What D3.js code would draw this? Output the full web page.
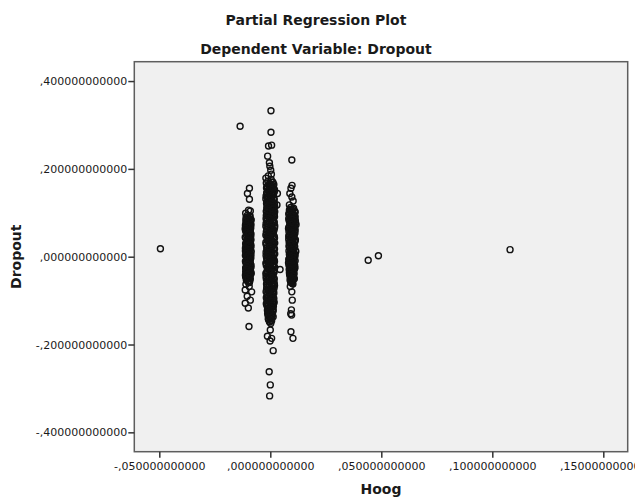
<!DOCTYPE html>
<html>
<head>
<meta charset="utf-8">
<script src="https://cdn.jsdelivr.net/npm/d3@7"></script>
<style>
  html, body { margin: 0; padding: 0; background: #fff; }
  svg { display: block; }
  text { font-family: "DejaVu Sans", sans-serif; fill: #1a1a1a; }
</style>
</head>
<body>
<svg id="chart" width="635" height="500"></svg>
<script>
// ---- data ----
const title = "Partial Regression Plot";
const subtitle = "Dependent Variable: Dropout";
const xLabel = "Hoog";
const yLabel = "Dropout";
const xTicks = [-0.05, 0, 0.05, 0.10, 0.15];
const yTicks = [-0.4, -0.2, 0, 0.2, 0.4];
const xDomain = [-0.06126, 0.16099];
const yDomain = [-0.4441, 0.4441];

// isolated observations
const outliers = [
  [-0.0495, 0.018], [0.0441, -0.008], [0.0487, 0.002], [0.1080, 0.016], [-0.0136, 0.297]
];

// observations around Hoog ≈ -0.01
const leftColumn = [
  [-0.0094,0.156],[-0.0103,0.144],[-0.0094,0.131],[-0.0098,0.106],[-0.0111,0.099],[-0.0090,0.104],
  [-0.0104,0.094],[-0.0093,0.091],[-0.0099,0.088],[-0.0108,0.085],[-0.0091,0.082],[-0.0101,0.079],
  [-0.0110,0.076],[-0.0095,0.073],[-0.0089,0.070],[-0.0105,0.067],[-0.0098,0.064],[-0.0112,0.061],
  [-0.0092,0.058],[-0.0102,0.055],[-0.0087,0.052],[-0.0107,0.049],[-0.0096,0.046],[-0.0111,0.043],
  [-0.0090,0.040],[-0.0100,0.037],[-0.0106,0.034],[-0.0093,0.031],[-0.0088,0.028],[-0.0109,0.025],
  [-0.0097,0.022],[-0.0103,0.019],[-0.0090,0.016],[-0.0112,0.013],[-0.0095,0.010],[-0.0101,0.007],
  [-0.0087,0.004],[-0.0108,0.001],[-0.0094,-0.002],[-0.0104,-0.005],[-0.0091,-0.008],[-0.0110,-0.011],
  [-0.0098,-0.014],[-0.0089,-0.017],[-0.0106,-0.020],[-0.0096,-0.023],[-0.0111,-0.026],[-0.0092,-0.029],
  [-0.0102,-0.032],[-0.0088,-0.035],[-0.0107,-0.038],[-0.0097,-0.041],[-0.0112,-0.042],[-0.0093,-0.044],
  [-0.0103,-0.047],[-0.0090,-0.050],[-0.0108,-0.053],[-0.0099,-0.056],[-0.0094,-0.059],
  [-0.0086,-0.038],[-0.0110,-0.063],[-0.0095,-0.068],[-0.0113,-0.076],[-0.0084,-0.080],[-0.0104,-0.090],
  [-0.0090,-0.099],[-0.0113,-0.106],[-0.0099,-0.117],[-0.0096,-0.159],
  [-0.0091,0.0926],[-0.0109,0.0894],[-0.0097,0.0867],[-0.0086,0.0836],[-0.0106,0.0803],[-0.0100,0.0777],
  [-0.0092,0.0744],[-0.0112,0.0716],[-0.0102,0.0687],[-0.0088,0.0654],[-0.0107,0.0623],[-0.0095,0.0597],
  [-0.0110,0.0566],[-0.0090,0.0534],[-0.0101,0.0506],[-0.0093,0.0476],[-0.0113,0.0443],[-0.0098,0.0417],
  [-0.0087,0.0384],[-0.0105,0.0356],[-0.0096,0.0326],[-0.0111,0.0294],[-0.0089,0.0267],[-0.0103,0.0233],
  [-0.0094,0.0207],[-0.0108,0.0176],[-0.0099,0.0144],[-0.0086,0.0117],[-0.0104,0.0086],[-0.0092,0.0054],
  [-0.0112,0.0027],[-0.0097,-0.0004],[-0.0088,-0.0036],[-0.0106,-0.0063],[-0.0100,-0.0094],[-0.0091,-0.0127],
  [-0.0109,-0.0153],[-0.0095,-0.0184],[-0.0103,-0.0216],[-0.0087,-0.0243],[-0.0110,-0.0274],[-0.0098,-0.0306],
  [-0.0093,-0.0333],[-0.0105,-0.0366],[-0.0089,-0.0394],[-0.0101,-0.0424],[-0.0111,-0.0456],[-0.0096,-0.0483],
  [-0.0105,-0.0514],[-0.0092,-0.0546],[-0.0100,-0.0574],
  [-0.0100,0.0884],[-0.0089,0.0856],[-0.0110,0.0824],[-0.0096,0.0794],[-0.0104,0.0766],[-0.0087,0.0735],
  [-0.0107,0.0704],[-0.0093,0.0676],[-0.0113,0.0645],[-0.0099,0.0614],[-0.0090,0.0586],[-0.0106,0.0555],
  [-0.0095,0.0524],[-0.0102,0.0496],[-0.0088,0.0465],[-0.0111,0.0434],[-0.0097,0.0406],[-0.0103,0.0375],
  [-0.0091,0.0344],[-0.0108,0.0316],[-0.0094,0.0285],[-0.0100,0.0254],[-0.0087,0.0226],[-0.0112,0.0195],
  [-0.0098,0.0164],[-0.0105,0.0136],[-0.0092,0.0105],[-0.0109,0.0074],[-0.0095,0.0046],[-0.0101,0.0015],
  [-0.0089,-0.0016],[-0.0107,-0.0044],[-0.0096,-0.0075],[-0.0112,-0.0106],[-0.0093,-0.0134],[-0.0102,-0.0165],
  [-0.0087,-0.0196],[-0.0108,-0.0224],[-0.0099,-0.0255],[-0.0105,-0.0286],[-0.0090,-0.0314],[-0.0111,-0.0345],
  [-0.0097,-0.0376],[-0.0103,-0.0404],[-0.0092,-0.0435],[-0.0109,-0.0466],[-0.0098,-0.0494]
];

// observations around Hoog ≈ 0
const centerColumn = [
  [0.0003,0.3325],[0.0003,0.2835],[0.0006,0.254],[-0.0008,0.252],[-0.0012,0.229],[-0.0004,0.214],
  [-0.0002,0.206],[0.0002,0.197],[-0.0020,0.179],[0.0005,0.188],[-0.0009,0.184],
  [0.0004,0.176],[-0.0011,0.172],[0.0012,0.169],[-0.0003,0.166],[0.0008,0.163],[-0.0014,0.160],
  [0.0002,0.157],[0.0015,0.154],[-0.0008,0.151],[0.0006,0.148],[-0.0016,0.145],[0.0032,0.144],
  [0.0010,0.142],[-0.0002,0.139],[-0.0013,0.136],[0.0017,0.133],[0.0003,0.130],[-0.0009,0.127],
  [0.0013,0.124],[-0.0017,0.121],[0.0030,0.118],[0.0005,0.118],[-0.0005,0.115],[0.0016,0.112],
  [-0.0012,0.109],[0.0008,0.106],[-0.0018,0.103],[0.0001,0.100],[0.0014,0.097],[-0.0007,0.094],
  [0.0019,0.091],[-0.0015,0.088],[0.0004,0.085],[-0.0003,0.082],[0.0012,0.079],[-0.0019,0.076],
  [0.0007,0.073],[0.0020,0.070],[-0.0010,0.067],[0.0002,0.064],[-0.0016,0.061],[0.0015,0.058],
  [-0.0004,0.055],[0.0009,0.052],[-0.0020,0.049],[0.0018,0.046],[-0.0008,0.043],[0.0003,0.040],
  [-0.0013,0.037],[0.0011,0.034],[0.0020,0.031],[-0.0017,0.028],[0.0006,0.025],[-0.0002,0.022],
  [0.0014,0.019],[-0.0011,0.016],[0.0001,0.013],[-0.0019,0.010],[0.0017,0.007],[0.0008,0.004],
  [-0.0006,0.001],[0.0012,-0.002],[-0.0015,-0.005],[0.0004,-0.008],[0.0019,-0.011],[-0.0009,-0.014],
  [0.0002,-0.017],[-0.0018,-0.020],[0.0013,-0.023],[-0.0004,-0.026],[0.0044,-0.029],[0.0007,-0.029],
  [-0.0012,-0.032],[0.0016,-0.035],[-0.0020,-0.038],[0.0003,-0.041],[0.0010,-0.044],[-0.0007,-0.047],
  [0.0018,-0.050],[-0.0014,-0.053],[0.0000,-0.056],[0.0014,-0.059],[-0.0017,-0.062],[0.0006,-0.065],
  [-0.0005,-0.068],[0.0017,-0.071],[-0.0011,-0.074],[0.0002,-0.077],[-0.0019,-0.080],[0.0012,-0.083],
  [-0.0003,-0.086],[0.0008,-0.089],[-0.0015,-0.092],[0.0016,-0.095],[0.0001,-0.098],[-0.0010,-0.101],
  [0.0011,-0.104],[-0.0018,-0.107],[0.0005,-0.110],[0.0014,-0.113],[-0.0007,-0.116],[0.0003,-0.119],
  [-0.0013,-0.122],[0.0012,-0.125],[-0.0004,-0.128],[0.0007,-0.131],[-0.0010,-0.134],[0.0013,-0.137],
  [0.0001,-0.140],[-0.0008,-0.143],[0.0006,-0.146],[-0.0003,-0.149],[0.0002,-0.152],
  [0.0000,-0.167],[-0.0013,-0.181],[0.0006,-0.186],[-0.0001,-0.192],[0.0013,-0.214],
  [-0.0005,-0.262],[0.0000,-0.292],[-0.0003,-0.317],
  [0.0010,0.1703],[-0.0018,0.1676],[0.0016,0.1644],[-0.0006,0.1618],[0.0003,0.1583],[-0.0013,0.1557],
  [0.0019,0.1524],[-0.0001,0.1497],[0.0008,0.1463],[-0.0016,0.1438],[0.0013,0.1404],[-0.0009,0.1377],
  [0.0005,0.1343],[-0.0020,0.1316],[0.0017,0.1287],[-0.0004,0.1253],[0.0011,0.1226],[-0.0014,0.1198],
  [0.0000,0.1163],[0.0020,0.1137],[-0.0011,0.1104],[0.0007,0.1078],[-0.0017,0.1044],[0.0014,0.1017],
  [-0.0003,0.0984],[0.0018,0.0957],[-0.0008,0.0926],[0.0002,0.0893],[-0.0019,0.0866],[0.0012,0.0837],
  [-0.0005,0.0804],[0.0016,0.0777],[-0.0012,0.0746],[0.0004,0.0713],[-0.0015,0.0687],[0.0019,0.0654],
  [-0.0002,0.0626],[0.0009,0.0597],[-0.0018,0.0563],[0.0013,0.0536],[-0.0007,0.0506],[0.0001,0.0473],
  [-0.0014,0.0447],[0.0017,0.0414],[-0.0010,0.0386],[0.0006,0.0357],[-0.0020,0.0323],[0.0015,0.0296],
  [-0.0003,0.0267],[0.0010,0.0234],[-0.0016,0.0206],[0.0019,0.0177],[-0.0006,0.0143],[0.0003,0.0116],
  [-0.0012,0.0084],[0.0014,0.0053],[-0.0019,0.0027],[0.0008,-0.0006],[-0.0002,-0.0033],[0.0017,-0.0067],
  [-0.0013,-0.0094],[0.0005,-0.0126],[-0.0017,-0.0153],[0.0012,-0.0187],[-0.0005,-0.0214],[0.0020,-0.0246],
  [-0.0009,-0.0273],[0.0002,-0.0307],[-0.0015,-0.0334],[0.0016,-0.0366],[-0.0001,-0.0393],[0.0009,-0.0427],
  [-0.0019,-0.0454],[0.0013,-0.0486],[-0.0007,-0.0513],[0.0004,-0.0547],[-0.0012,-0.0574],[0.0018,-0.0606],
  [-0.0004,-0.0633],[0.0011,-0.0667],[-0.0016,-0.0694],[0.0006,-0.0726],[-0.0009,-0.0753],[0.0015,-0.0787],
  [-0.0002,-0.0814],[0.0010,-0.0846],[-0.0014,-0.0873],[0.0003,-0.0907],[-0.0018,-0.0934],[0.0012,-0.0966],
  [-0.0006,-0.0993],[0.0016,-0.1027],[-0.0011,-0.1054],[0.0001,-0.1086],[-0.0015,-0.1113],[0.0009,-0.1147],
  [-0.0003,-0.1174],[0.0013,-0.1206],[-0.0008,-0.1233],[0.0005,-0.1267],[-0.0012,-0.1294],[0.0010,-0.1326],
  [-0.0002,-0.1353],[0.0006,-0.1387],[-0.0009,-0.1414],[0.0004,-0.1446],[-0.0004,-0.1473],
  [-0.0004,0.1633],[0.0014,0.1594],[-0.0017,0.1566],[0.0007,0.1534],[-0.0010,0.1505],[0.0018,0.1474],
  [-0.0002,0.1447],[0.0011,0.1414],[-0.0019,0.1385],[0.0005,0.1356],[-0.0008,0.1323],[0.0016,0.1294],
  [-0.0014,0.1266],[0.0001,0.1235],[0.0019,0.1204],[-0.0006,0.1176],[0.0009,0.1145],[-0.0016,0.1114],
  [0.0013,0.1087],[-0.0003,0.1053],[0.0020,0.1026],[-0.0012,0.0995],[0.0006,0.0964],[-0.0018,0.0937],
  [0.0015,0.0905],[-0.0005,0.0875],[0.0002,0.0846],[-0.0014,0.0815],[0.0018,0.0786],[-0.0009,0.0754],
  [0.0010,0.0726],[-0.0020,0.0695],[0.0004,0.0665],[-0.0001,0.0634],[0.0016,0.0606],[-0.0011,0.0575],
  [0.0007,0.0544],[-0.0017,0.0516],[0.0013,0.0485],[-0.0004,0.0454],[0.0019,0.0426],[-0.0013,0.0394],
  [0.0001,0.0366],[-0.0007,0.0335],[0.0012,0.0304],[-0.0019,0.0276],[0.0008,0.0245],[-0.0002,0.0214],
  [0.0017,0.0186],[-0.0015,0.0155],[0.0005,0.0124],[-0.0009,0.0096],[0.0020,0.0065],[-0.0012,0.0034],
  [0.0003,0.0006],[-0.0017,-0.0025],[0.0014,-0.0056],[-0.0005,-0.0084],[0.0010,-0.0115],[-0.0020,-0.0146],
  [0.0016,-0.0174],[-0.0008,-0.0205],[0.0001,-0.0236],[-0.0013,-0.0264],[0.0018,-0.0295],[-0.0003,-0.0326],
  [0.0007,-0.0354],[-0.0016,-0.0385],[0.0012,-0.0416],[-0.0010,-0.0444],[0.0004,-0.0475],[-0.0018,-0.0506],
  [0.0015,-0.0534],[-0.0001,-0.0565],[0.0009,-0.0596],[-0.0014,-0.0624],[0.0019,-0.0655],[-0.0006,-0.0686],
  [0.0003,-0.0714],[-0.0017,-0.0745],[0.0011,-0.0776],[-0.0004,-0.0804],[0.0016,-0.0835],[-0.0012,-0.0866],
  [0.0006,-0.0894],[-0.0008,-0.0925],[0.0013,-0.0956],[-0.0015,-0.0984],[0.0002,-0.1015],[0.0017,-0.1046],
  [-0.0009,-0.1074],[0.0008,-0.1105],[-0.0013,-0.1136],[0.0004,-0.1164],[-0.0006,-0.1195],[0.0011,-0.1226],
  [-0.0003,-0.1254]
];

// observations around Hoog ≈ 0.01
const rightColumn = [
  [0.0097,0.2202],[0.0098,0.1625],[0.0093,0.156],[0.0088,0.144],[0.0097,0.136],[0.0086,0.118],[0.0103,0.127],
  [0.0092,0.112],[0.0101,0.109],[0.0086,0.106],[0.0108,0.103],[0.0095,0.100],[0.0083,0.097],
  [0.0104,0.094],[0.0112,0.091],[0.0090,0.088],[0.0099,0.085],[0.0085,0.082],[0.0107,0.079],
  [0.0094,0.076],[0.0116,0.073],[0.0088,0.070],[0.0102,0.067],[0.0082,0.064],[0.0097,0.061],
  [0.0110,0.058],[0.0091,0.055],[0.0100,0.052],[0.0086,0.049],[0.0106,0.046],[0.0095,0.043],
  [0.0083,0.040],[0.0103,0.037],[0.0111,0.034],[0.0089,0.031],[0.0098,0.028],[0.0085,0.025],
  [0.0108,0.022],[0.0093,0.019],[0.0101,0.016],[0.0084,0.013],[0.0105,0.010],[0.0096,0.007],
  [0.0112,0.004],[0.0088,0.001],[0.0100,-0.002],[0.0086,-0.005],[0.0107,-0.008],[0.0094,-0.011],
  [0.0082,-0.014],[0.0103,-0.017],[0.0110,-0.020],[0.0090,-0.023],[0.0099,-0.026],[0.0085,-0.029],
  [0.0106,-0.032],[0.0092,-0.035],[0.0101,-0.038],[0.0087,-0.041],[0.0104,-0.044],[0.0095,-0.047],
  [0.0108,-0.050],[0.0089,-0.053],[0.0098,-0.056],[0.0093,-0.059],[0.0102,-0.062],
  [0.0090,-0.068],[0.0097,-0.080],[0.0099,-0.099],[0.0095,-0.121],[0.0092,-0.130],[0.0096,-0.133],
  [0.0093,-0.171],[0.0102,-0.186],
  [0.0105,0.1104],[0.0089,0.1077],[0.0098,0.1046],[0.0112,0.1013],[0.0087,0.0987],[0.0101,0.0956],
  [0.0093,0.0923],[0.0109,0.0897],[0.0083,0.0864],[0.0104,0.0836],[0.0096,0.0807],[0.0114,0.0774],
  [0.0090,0.0746],[0.0100,0.0716],[0.0086,0.0683],[0.0108,0.0657],[0.0094,0.0624],[0.0103,0.0596],
  [0.0084,0.0566],[0.0111,0.0533],[0.0097,0.0507],[0.0089,0.0474],[0.0106,0.0446],[0.0092,0.0414],
  [0.0113,0.0386],[0.0099,0.0357],[0.0085,0.0323],[0.0102,0.0296],[0.0095,0.0267],[0.0110,0.0234],
  [0.0088,0.0206],[0.0104,0.0174],[0.0091,0.0146],[0.0115,0.0117],[0.0098,0.0084],[0.0086,0.0056],
  [0.0107,0.0024],[0.0093,-0.0004],[0.0101,-0.0036],[0.0083,-0.0064],[0.0112,-0.0094],[0.0096,-0.0126],
  [0.0090,-0.0153],[0.0105,-0.0184],[0.0099,-0.0216],[0.0087,-0.0243],[0.0109,-0.0276],[0.0094,-0.0304],
  [0.0102,-0.0333],[0.0086,-0.0366],[0.0107,-0.0393],[0.0097,-0.0424],[0.0091,-0.0456],[0.0104,-0.0484],
  [0.0095,-0.0513],[0.0100,-0.0546],[0.0092,-0.0574],[0.0098,-0.0604],
  [0.0095,0.1064],[0.0110,0.1036],[0.0086,0.1004],[0.0102,0.0976],[0.0093,0.0945],[0.0107,0.0914],
  [0.0089,0.0886],[0.0099,0.0854],[0.0113,0.0826],[0.0087,0.0795],[0.0104,0.0764],[0.0092,0.0736],
  [0.0109,0.0705],[0.0084,0.0674],[0.0098,0.0646],[0.0112,0.0614],[0.0090,0.0585],[0.0101,0.0556],
  [0.0095,0.0524],[0.0106,0.0496],[0.0083,0.0465],[0.0103,0.0434],[0.0097,0.0406],[0.0111,0.0375],
  [0.0088,0.0346],[0.0100,0.0316],[0.0093,0.0285],[0.0108,0.0254],[0.0085,0.0226],[0.0102,0.0195],
  [0.0096,0.0164],[0.0113,0.0136],[0.0090,0.0105],[0.0099,0.0076],[0.0105,0.0044],[0.0087,0.0016],
  [0.0110,-0.0015],[0.0094,-0.0046],[0.0101,-0.0074],[0.0089,-0.0105],[0.0106,-0.0136],[0.0097,-0.0164],
  [0.0084,-0.0195],[0.0103,-0.0226],[0.0111,-0.0254],[0.0092,-0.0285],[0.0100,-0.0316],[0.0088,-0.0344],
  [0.0105,-0.0375],[0.0094,-0.0406],[0.0102,-0.0434],[0.0090,-0.0465],[0.0107,-0.0496],[0.0096,-0.0524]
];

// ---- drawing ----
const svg = d3.select("#chart");
const plot = { left: 134.3, right: 627.7, top: 61.7, bottom: 451.7 };

const x = d3.scaleLinear().domain(xDomain).range([plot.left, plot.right]);
const y = d3.scaleLinear().domain(yDomain).range([plot.bottom, plot.top]);

const fmt = v => {
  const s = d3.format(".12f")(Math.abs(v)).replace(/^0\./, ",");
  return (v < 0 ? "-" : "") + s;
};

// plot background
svg.append("rect")
  .attr("x", plot.left).attr("y", plot.top)
  .attr("width", plot.right - plot.left).attr("height", plot.bottom - plot.top)
  .attr("fill", "#f0f0f0");

// points
const allPoints = [].concat(leftColumn, centerColumn, rightColumn, outliers);
svg.append("g")
  .selectAll("circle")
  .data(allPoints)
  .join("circle")
  .attr("cx", d => x(d[0]))
  .attr("cy", d => y(d[1]))
  .attr("r", 3.0)
  .attr("fill", "none")
  .attr("stroke", "#111")
  .attr("stroke-width", 1.4);

// frame
svg.append("rect")
  .attr("x", plot.left).attr("y", plot.top)
  .attr("width", plot.right - plot.left).attr("height", plot.bottom - plot.top)
  .attr("fill", "none")
  .attr("stroke", "#5e5e5e")
  .attr("stroke-width", 1.5);

// axes
const yAxis = svg.append("g")
  .attr("transform", `translate(${plot.left},0)`)
  .call(d3.axisLeft(y).tickValues(yTicks).tickSize(6).tickPadding(1).tickFormat(fmt));
const xAxis = svg.append("g")
  .attr("transform", `translate(0,${plot.bottom})`)
  .call(d3.axisBottom(x).tickValues(xTicks).tickSize(6).tickPadding(4.5).tickFormat(fmt));

[yAxis, xAxis].forEach(g => {
  g.select(".domain").remove();
  g.selectAll(".tick line").attr("stroke", "#333").attr("stroke-width", 1.5);
  g.selectAll(".tick text")
    .attr("font-family", "DejaVu Sans, sans-serif")
    .attr("font-size", 11)
    .attr("fill", "#1a1a1a");
});

// titles
svg.append("text")
  .attr("x", 316).attr("y", 25)
  .attr("text-anchor", "middle")
  .attr("font-size", 14).attr("font-weight", "bold")
  .text(title);
svg.append("text")
  .attr("x", 316).attr("y", 54)
  .attr("text-anchor", "middle")
  .attr("font-size", 14).attr("font-weight", "bold")
  .text(subtitle);
svg.append("text")
  .attr("x", (plot.left + plot.right) / 2).attr("y", 494)
  .attr("text-anchor", "middle")
  .attr("font-size", 14).attr("font-weight", "bold")
  .text(xLabel);
svg.append("text")
  .attr("transform", `translate(20.5,${(plot.top + plot.bottom) / 2}) rotate(-90)`)
  .attr("text-anchor", "middle")
  .attr("font-size", 14).attr("font-weight", "bold")
  .text(yLabel);
</script>
</body>
</html>
